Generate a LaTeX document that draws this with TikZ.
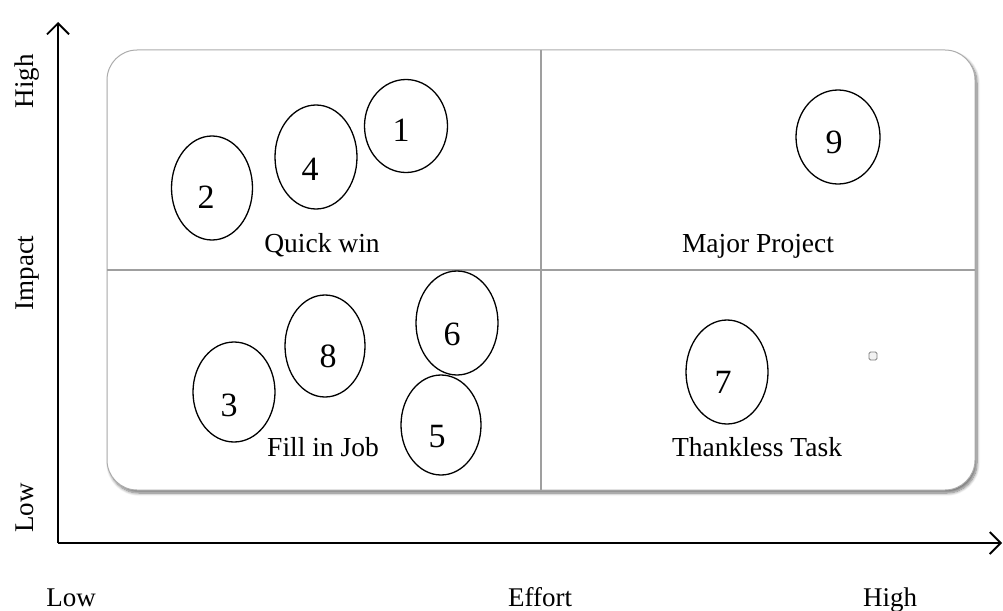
\documentclass[tikz,border=0pt]{standalone}
\usepackage{fontspec}
\setmainfont{Liberation Serif}
\usetikzlibrary{arrows.meta,shadows,shadows.blur,shapes.geometric}
\begin{document}
\begin{tikzpicture}[x=1pt,y=-1pt,
  ell/.style={draw=black,line width=1.3pt,ellipse,inner sep=0pt},
  num/.style={font=\fontsize{34}{36}\selectfont,inner sep=0pt},
  quad/.style={font=\fontsize{27.5}{29}\selectfont,anchor=base},
  axlab/.style={font=\fontsize{27}{29}\selectfont,anchor=base},
  axis/.style={line width=1.8pt,-{Straight Barb[length=11pt,width=22pt,line width=1.8pt]}},
  divider/.style={draw=gray!75,line width=1.3pt}]
\useasboundingbox (0,0) rectangle (1003,610);
% box
\node[draw=gray!65,line width=1pt,fill=white,rounded corners=30pt,
  minimum width=868pt,minimum height=440pt,inner sep=0pt,
  blur shadow={shadow xshift=2pt,shadow yshift=-3pt,shadow blur steps=8,
    shadow blur radius=3pt,shadow opacity=55}]
  (box) at (541,270) {};
\coordinate (vt) at (541,50);
\coordinate (vb) at (541,490);
\coordinate (hl) at (107,270);
\coordinate (hr) at (975,270);
\draw[divider] (vt) -- (vb);
\draw[divider] (hl) -- (hr);
% axes
\coordinate (o) at (58,543);
\coordinate (ytop) at (58,22);
\coordinate (xend) at (1002,543);
\draw[axis] (o) -- (ytop);
\draw[axis] (o) -- (xend);
% axis labels
\node[axlab,rotate=90] (yh) at (33,81) {High};
\node[axlab,rotate=90] (yi) at (33,273) {Impact};
\node[axlab,rotate=90] (yl) at (33,508) {Low};
\node[axlab] (xl) at (71,606) {Low};
\node[axlab] (xe) at (540,606) {Effort};
\node[axlab] (xh) at (890,606) {High};
% quadrant labels
\node[quad] (qw) at (322,252) {Quick win};
\node[quad] (mp) at (758,252) {Major Project};
\node[quad] (fj) at (323,456) {Fill in Job};
\node[quad] (tt) at (757,456) {Thankless Task};
% ellipses
\node[ell,minimum width=83pt,minimum height=93pt] (e1) at (406,126) {};
\node[ell,minimum width=82pt,minimum height=104pt] (e4) at (316,157) {};
\node[ell,minimum width=81pt,minimum height=104pt] (e2) at (212,188) {};
\node[ell,minimum width=84pt,minimum height=94pt] (e9) at (838,137) {};
\node[ell,minimum width=82pt,minimum height=104pt] (e6) at (457,323) {};
\node[ell,minimum width=80pt,minimum height=102pt] (e8) at (325,346) {};
\node[ell,minimum width=82pt,minimum height=100pt] (e3) at (234,392) {};
\node[ell,minimum width=80pt,minimum height=100pt] (e5) at (441,425) {};
\node[ell,minimum width=82pt,minimum height=104pt] (e7) at (727,372) {};
% numbers
\node[num] (n1) at (401,130) {1};
\node[num] (n4) at (310,169) {4};
\node[num] (n2) at (206,197) {2};
\node[num] (n9) at (834,142) {9};
\node[num] (n6) at (452,334) {6};
\node[num] (n8) at (328,356) {8};
\node[num] (n3) at (229,405) {3};
\node[num] (n5) at (437,437) {5};
\node[num] (n7) at (723,382) {7};
% small square
\node[draw=gray,fill=gray!10,rounded corners=1.5pt,minimum size=8pt,inner sep=0pt,line width=0.8pt] (sq) at (873,356) {};
\end{tikzpicture}
\end{document}
